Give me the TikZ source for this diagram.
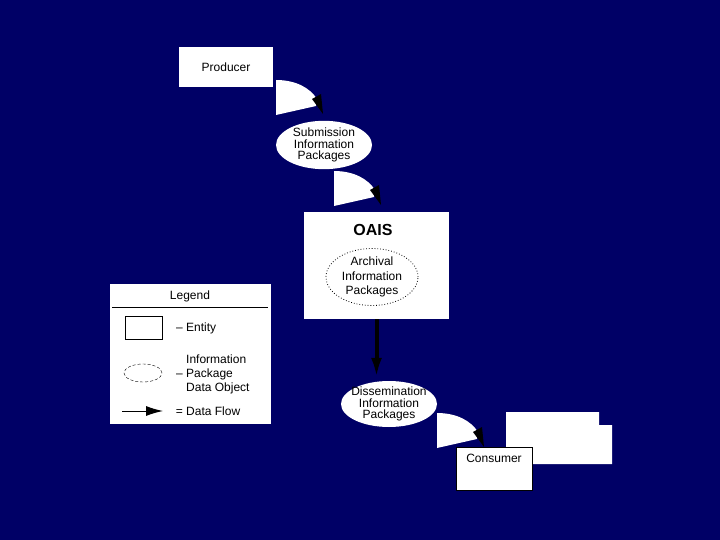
\documentclass[tikz,border=0pt]{standalone}
\usepackage{fontspec}
\setmainfont{Liberation Sans}
\usetikzlibrary{arrows.meta,shapes.geometric,positioning}
\definecolor{navy}{RGB}{0,0,102}

\tikzset{
    flow/.pic={
        \fill[white] (0,0) .. controls (20,0) and (34,8) .. (41,19) -- (40,26) -- (0,35) -- cycle;
        \fill[black] (36,19) -- (45,14) -- (47,34) -- cycle;
    }
}

\begin{document}
\begin{tikzpicture}[x=1pt, y=-1pt,
        entity/.style={fill=white, inner sep=0pt},
        package/.style={ellipse, fill=white, inner sep=0pt, align=center,
            font=\fontsize{12}{11.5}\selectfont},
        txt/.style={font=\fontsize{12}{14}\selectfont, align=left, inner sep=0pt}]
            \useasboundingbox (0,0) rectangle (720,540);
            \fill[navy] (0,0) rectangle (720,540);

            % entities and packages
            \node[entity, minimum width=94pt, minimum height=40pt, font=\fontsize{12}{12}\selectfont] (producer) at (226,67) {Producer};
            \node[package, minimum width=96pt, minimum height=45pt] (sip) at (324,145) {Submission\\Information\\Packages};

            \node[entity, minimum width=145pt, minimum height=107pt] (oais) at (376.5,265.5) {};
            \node[font=\fontsize{16}{16}\selectfont\bfseries] (oaislabel) at (373,230) {OAIS};
            \node[package, draw=black, dotted, line width=0.8pt, minimum width=92pt, minimum height=57pt,
                font=\fontsize{12}{14.5}\selectfont] (aip) at (372,277) {Archival\\Information\\Packages};

            \node[package, inner xsep=-4pt, inner ysep=-2pt, minimum width=96pt, minimum height=46pt] (dip) at (389,404) {Dissemination\\Information\\Packages};

            \fill[white] (506,412) -- (599,412) -- (599,425) -- (612,425) -- (612,464) -- (506,464) -- cycle;
            \node[entity, draw=black, thin, minimum width=76pt, minimum height=43pt] (consumer) at (494,468.5) {};
            \node[txt, below=7pt of consumer.north] (consumerlabel) {Consumer};

            % data flows
            \pic at (276,80) {flow};
            \pic at (334,171) {flow};
            \pic at (437,413) {flow};
            \draw[line width=4pt, -{Latex[length=20pt, width=11pt]}, shorten >=3pt]
                (oais.south) -- (oais.south |- dip.north);

            % legend
            \node[entity, minimum width=161pt, minimum height=140pt] (legend) at (190.5,354) {};
            \node[txt] (legendtitle) at (190,296) {Legend};
            \coordinate (ruleleft) at (112,307);
            \coordinate (ruleright) at (268,307);
            \draw[black, thin] (ruleleft) -- (ruleright);

            \node[draw=black, thin, minimum width=37pt, minimum height=23pt] (entitykey) at (143.5,327.5) {};
            \node[txt, anchor=west] (entitytext) at (186,328) {\llap{– }Entity};

            \node[ellipse, draw=black, densely dashed, thin, minimum width=38pt, minimum height=18pt, inner sep=0pt] (packagekey) at (143,373) {};
            \node[txt, anchor=west] (packagetext) at (186,374) {Information\\\llap{– }Package\\Data Object};

            \coordinate (flowstart) at (122,411);
            \coordinate (flowend) at (163,411);
            \draw[line width=1pt, -{Latex[length=17pt, width=10pt]}] (flowstart) -- (flowend);
            \node[txt, anchor=west] (flowtext) at (186,411) {\llap{= }Data Flow};
\end{tikzpicture}
\end{document}
